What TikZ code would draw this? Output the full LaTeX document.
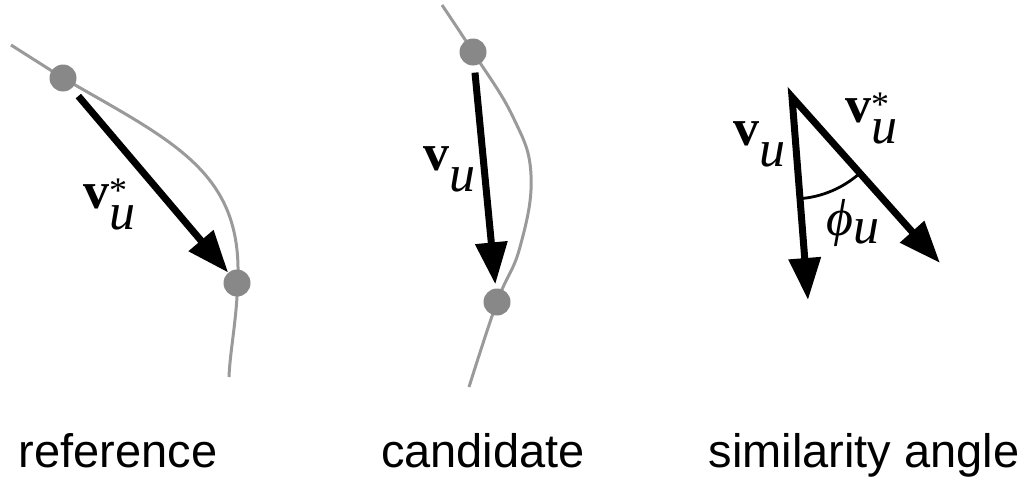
\documentclass[tikz,border=0pt]{standalone}
\usepackage{fontspec}
\setmainfont{Liberation Serif}
\newfontfamily\sanslab{Liberation Sans}
\usetikzlibrary{arrows.meta}
\definecolor{curvegray}{HTML}{9A9A9A}
\definecolor{dotgray}{HTML}{888888}
\newcommand{\bv}{\textbf{v}}
\newcommand{\labu}{\raisebox{-0.42em}{\textit{u}}}
\newcommand{\labstar}{\rlap{\raisebox{0.1em}{\fontsize{36}{36}\selectfont *}}}
\begin{document}
\begin{tikzpicture}[x=1pt,y=-1pt,
  curve/.style={curvegray, line width=3pt},
  dot/.style={circle, fill=dotgray, minimum size=27pt, inner sep=0pt},
  vec/.style={line width=7pt, -{Triangle[length=42pt,width=31pt]}},
  mathlab/.style={anchor=base west, inner sep=0pt, font=\fontsize{52}{52}\selectfont},
  caption/.style={anchor=base, inner sep=0pt, font=\sanslab\fontsize{47}{47}\selectfont}]
\useasboundingbox (0,0) rectangle (1027,479);
% panel 1: reference
\draw[curve] (11,45) -- (63,78) .. controls (170,140) and (240,170) .. (238,275) .. controls (237,320) and (230,350) .. (229,377);
\node[dot] (a1) at (63,78) {};
\node[dot] (a2) at (237,283) {};
\draw[vec, shorten <=10pt] (a1) -- (a2);
\node[mathlab] (l1) at (83,208) {\bv\labstar\labu};
% panel 2: candidate
\draw[curve] plot[smooth, tension=0.7] coordinates {(442,5) (473,52) (513,117) (531,175) (520,247) (497,302) (469,387)};
\node[dot] (b1) at (473,52) {};
\node[dot] (b2) at (497,302) {};
\draw[vec, shorten <=7pt, shorten >=4pt] (b1) -- (b2);
\node[mathlab] (l2) at (423,170) {\bv\labu};
% panel 3: similarity angle
\coordinate (apex) at (792,97);
\coordinate (c1) at (808,300);
\coordinate (c2) at (940,263);
\draw[line width=7pt, {Triangle[length=42pt,width=31pt]}-{Triangle[length=42pt,width=31pt]}] (c1) -- (apex) -- (c2);
\draw[line width=2.8pt] ([shift={(85.5:102)}]apex) arc[start angle=85.5, end angle=48.3, radius=102];
\node[mathlab] (l3) at (733,145) {\bv\labu};
\node[mathlab] (l4) at (845,122) {\bv\labstar\labu};
\node[mathlab] (l5) at (826,235) {\textit{ϕ}\raisebox{-0.16em}{\textit{u}}};
% captions
\node[caption] (t1) at (118,467) {reference};
\node[caption] (t2) at (483,467) {candidate};
\node[caption] (t3) at (864,467) {similarity angle};
\end{tikzpicture}
\end{document}
